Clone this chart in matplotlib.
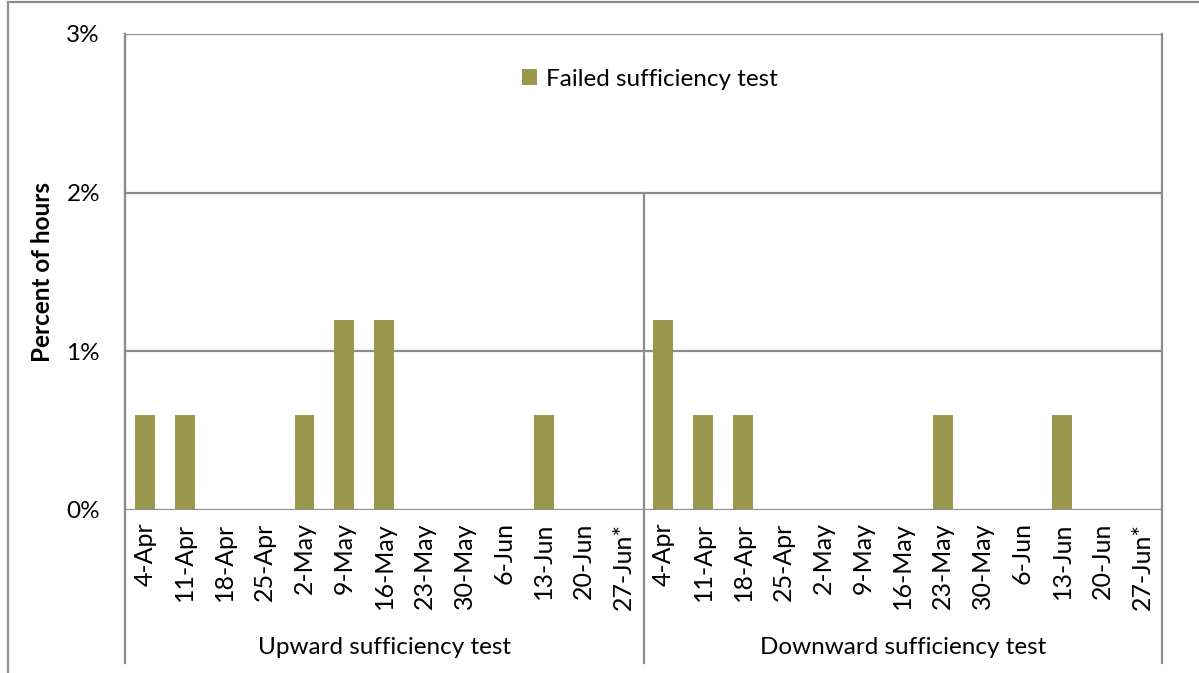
import numpy as np
import matplotlib.pyplot as plt
from matplotlib.patches import Rectangle
from matplotlib.lines import Line2D

weeks = ['4-Apr', '11-Apr', '18-Apr', '25-Apr', '2-May', '9-May', '16-May',
         '23-May', '30-May', '6-Jun', '13-Jun', '20-Jun', '27-Jun*']
groups = ['Upward sufficiency test', 'Downward sufficiency test']
upward = [0.6, 0.6, 0, 0, 0.6, 1.2, 1.2, 0, 0, 0, 0.6, 0, 0]
downward = [1.2, 0.6, 0.6, 0, 0, 0, 0, 0.6, 0, 0, 0.6, 0, 0]
series_name = 'Failed sufficiency test'

plt.rcParams['font.family'] = ['Lato', 'DejaVu Sans']
grid_c = '#8c8c8c'
bar_c = '#9a984c'

fig = plt.figure(figsize=(11.99, 6.73), dpi=100)
ax = fig.add_axes([125 / 1199, 1 - 510 / 673, (1162 - 125) / 1199, (510 - 34) / 673])

values = upward + downward
labels = weeks + weeks
x = np.arange(len(values))
ax.bar(x, values, width=0.5, color=bar_c, label=series_name, zorder=3)

ax.set_xlim(-0.5, len(values) - 0.5)
ax.set_ylim(0, 3)
ax.set_yticks([0, 1, 2, 3])
ax.set_yticklabels(['%d%%' % v for v in [0, 1, 2, 3]], fontsize=17.5)
ax.tick_params(axis='y', length=0, pad=18)
ax.set_xticks(x)
ax.set_xticklabels(labels, rotation=90, fontsize=18, va='top')
ax.tick_params(axis='x', length=0, pad=9)
for v in [1, 2, 3]:
    ax.axhline(v, color=grid_c, lw=1.6, zorder=1)
for s in ['top', 'bottom']:
    ax.spines[s].set_visible(False)
ax.axhline(0, color=grid_c, lw=1.6, zorder=4)
ax.spines['left'].set_color(grid_c)
ax.spines['left'].set_linewidth(1.6)
ax.spines['right'].set_visible(False)
ax.set_ylabel('Percent of hours', fontsize=17.5, fontweight='bold', labelpad=9)

# group separators extending below the axis
bottom_y = 1 - (663 - 34) / (510 - 34)
trans = ax.get_xaxis_transform()
n = len(weeks)
for xv, ytop in [(-0.5, 1.0), (n - 0.5, 2 / 3), (2 * n - 0.5, 1.0)]:
    ax.add_line(Line2D([xv, xv], [bottom_y, ytop], transform=trans, color=grid_c,
                       lw=1.6, clip_on=False, zorder=5))
for i, g in enumerate(groups):
    ax.text(i * n + (n - 1) / 2, 1 - (648 - 34) / (510 - 34), g, transform=trans,
            ha='center', va='center', fontsize=17.5)

leg = ax.legend(loc='center', bbox_to_anchor=((650 - 125) / 1037, 1 - (79 - 34) / 476),
                frameon=False, fontsize=17.5, handlelength=0.6, handleheight=0.6,
                handletextpad=0.4)

fig.add_artist(Rectangle((8 / 1199, -0.01), 1.0, 1.01 - 2 / 673,
                         transform=fig.transFigure, fill=False, ec=grid_c, lw=1.6))

fig.savefig('out.png', dpi=100)
